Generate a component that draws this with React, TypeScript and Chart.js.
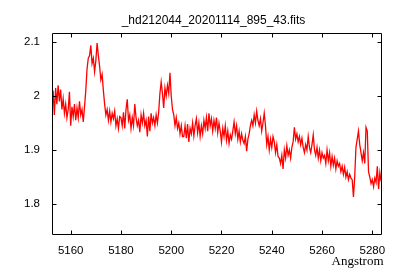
import React, { useEffect, useRef } from "react";
import { Chart, registerables } from "chart.js";

Chart.register(...registerables);

const TITLE = "_hd212044_20201114_895_43.fits";
const X_LABEL = "Angstrom";

// wavelength grid of the spectrum (start, step in Angstrom)
const CRVAL1 = 5153.0;
const CDELT1 = 0.5;

// flux samples, two per Angstrom (x.0, x.5)
const FLUX = [
  2.010, 1.965, // 5153
  2.015, 1.985, // 5154
  2.020, 1.990, // 5155
  2.012, 1.975, // 5156
  1.995, 1.968, // 5157
  1.985, 1.960, // 5158
  1.975, 2.008, // 5159
  1.945, 1.980, // 5160
  1.962, 1.985, // 5161
  1.955, 1.978, // 5162
  1.960, 1.990, // 5163
  1.965, 1.975, // 5164
  1.952, 1.980, // 5165
  2.010, 2.050, // 5166
  2.070, 2.075, // 5167
  2.094, 2.060, // 5168
  2.070, 2.045, // 5169
  2.065, 2.098, // 5170
  2.075, 2.055, // 5171
  2.030, 2.040, // 5172
  2.010, 1.985, // 5173
  1.965, 1.975, // 5174
  1.955, 1.972, // 5175
  1.952, 1.968, // 5176
  1.958, 1.972, // 5177
  1.945, 1.958, // 5178
  1.940, 1.962, // 5179
  1.960, 1.945, // 5180
  1.970, 1.940, // 5181
  1.975, 1.994, // 5182
  1.955, 1.965, // 5183
  1.940, 1.960, // 5184
  1.945, 1.985, // 5185
  1.960, 1.945, // 5186
  1.955, 1.933, // 5187
  1.965, 1.950, // 5188
  1.968, 1.945, // 5189
  1.955, 1.925, // 5190
  1.962, 1.935, // 5191
  1.968, 1.950, // 5192
  1.960, 1.945, // 5193
  1.965, 1.950, // 5194
  1.970, 2.005, // 5195
  2.026, 2.005, // 5196
  1.978, 2.015, // 5197
  2.000, 2.020, // 5198
  2.005, 2.043, // 5199
  2.000, 1.975, // 5200
  1.965, 1.945, // 5201
  1.960, 1.940, // 5202
  1.950, 1.930, // 5203
  1.945, 1.925, // 5204
  1.925, 1.945, // 5205
  1.922, 1.948, // 5206
  1.915, 1.940, // 5207
  1.930, 1.950, // 5208
  1.926, 1.945, // 5209
  1.958, 1.932, // 5210
  1.950, 1.925, // 5211
  1.945, 1.930, // 5212
  1.955, 1.940, // 5213
  1.960, 1.935, // 5214
  1.968, 1.945, // 5215
  1.958, 1.935, // 5216
  1.955, 1.940, // 5217
  1.960, 1.932, // 5218
  1.950, 1.935, // 5219
  1.915, 1.940, // 5220
  1.925, 1.945, // 5221
  1.918, 1.935, // 5222
  1.912, 1.928, // 5223
  1.920, 1.935, // 5224
  1.952, 1.930, // 5225
  1.945, 1.920, // 5226
  1.935, 1.915, // 5227
  1.930, 1.918, // 5228
  1.912, 1.925, // 5229
  1.898, 1.920, // 5230
  1.930, 1.945, // 5231
  1.955, 1.945, // 5232
  1.965, 1.950, // 5233
  1.972, 1.955, // 5234
  1.945, 1.958, // 5235
  1.935, 1.950, // 5236
  1.968, 1.945, // 5237
  1.910, 1.925, // 5238
  1.900, 1.920, // 5239
  1.905, 1.925, // 5240
  1.915, 1.895, // 5241
  1.910, 1.888, // 5242
  1.885, 1.875, // 5243
  1.890, 1.865, // 5244
  1.900, 1.885, // 5245
  1.908, 1.890, // 5246
  1.900, 1.885, // 5247
  1.905, 1.915, // 5248
  1.942, 1.920, // 5249
  1.930, 1.915, // 5250
  1.925, 1.910, // 5251
  1.922, 1.905, // 5252
  1.895, 1.910, // 5253
  1.900, 1.925, // 5254
  1.905, 1.895, // 5255
  1.910, 1.928, // 5256
  1.900, 1.890, // 5257
  1.905, 1.885, // 5258
  1.900, 1.880, // 5259
  1.895, 1.885, // 5260
  1.890, 1.875, // 5261
  1.900, 1.880, // 5262
  1.895, 1.870, // 5263
  1.888, 1.872, // 5264
  1.885, 1.865, // 5265
  1.880, 1.870, // 5266
  1.875, 1.860, // 5267
  1.870, 1.855, // 5268
  1.868, 1.850, // 5269
  1.860, 1.845, // 5270
  1.855, 1.848, // 5271
  1.845, 1.813, // 5272
  1.850, 1.905, // 5273
  1.920, 1.935, // 5274
  1.910, 1.895, // 5275
  1.880, 1.895, // 5276
  1.875, 1.942, // 5277
  1.935, 1.860, // 5278
  1.850, 1.838, // 5279
  1.845, 1.832, // 5280
  1.848, 1.840, // 5281
  1.870, 1.828, // 5282
  1.858, 1.842, // 5283
];

const X_TICKS = [5160, 5180, 5200, 5220, 5240, 5260, 5280];
const Y_TICKS = [1.8, 1.9, 2.0, 2.1];
const X_MIN = 5152.56;
const X_MAX = 5283.86;
const Y_MIN = 1.7444;
const Y_MAX = 2.1167;

const SANS = "'Liberation Sans', Arial, Helvetica, sans-serif";
const SERIF = "'Liberation Serif', 'Times New Roman', serif";

const framePlugin = {
  id: "gnuplotFrame",
  afterDraw(chart: any) {
    const { ctx, chartArea: a, scales } = chart;
    ctx.save();
    ctx.strokeStyle = "#000";
    ctx.lineWidth = 1;
    const L = Math.round(a.left) + 0.5;
    const T = Math.round(a.top) + 0.5;
    const R = Math.round(a.right) - 0.5;
    const B = Math.round(a.bottom) + 0.5;
    ctx.beginPath();
    ctx.rect(L, T, R - L, B - T);
    const tl = 4;
    for (const v of X_TICKS) {
      const px = Math.round(scales.x.getPixelForValue(v)) + 0.5;
      ctx.moveTo(px, B);
      ctx.lineTo(px, B - tl);
      ctx.moveTo(px, T);
      ctx.lineTo(px, T + tl);
    }
    for (const v of Y_TICKS) {
      const py = Math.round(scales.y.getPixelForValue(v)) + 0.5;
      ctx.moveTo(L, py);
      ctx.lineTo(L + tl, py);
      ctx.moveTo(R, py);
      ctx.lineTo(R - tl, py);
    }
    ctx.stroke();

    ctx.fillStyle = "#000";
    ctx.textBaseline = "alphabetic";
    ctx.font = `12px ${SANS}`;
    ctx.textAlign = "center";
    ctx.fillText(TITLE, 213.5, 23.5);
    ctx.font = `13px ${SERIF}`;
    ctx.textAlign = "right";
    ctx.fillText(X_LABEL, 383.5, 265);
    ctx.restore();
  },
};

export default function App() {
  const ref = useRef<HTMLCanvasElement | null>(null);

  useEffect(() => {
    if (!ref.current) return;
    const points = FLUX.map((y, i) => ({ x: CRVAL1 + i * CDELT1, y }));
    const tickFont = { family: SANS, size: 11.5 };
    const chart = new Chart(ref.current, {
      type: "line",
      data: {
        datasets: [
          {
            data: points,
            borderColor: "#ff0000",
            borderWidth: 1.3,
            pointRadius: 0,
            tension: 0,
            fill: false,
          },
        ],
      },
      options: {
        animation: false,
        responsive: false,
        devicePixelRatio: 1,
        layout: { padding: { top: 33, right: 18, left: 0, bottom: 0 } },
        plugins: {
          legend: { display: false },
          title: { display: false },
          tooltip: { enabled: false },
        },
        scales: {
          x: {
            type: "linear",
            min: X_MIN,
            max: X_MAX,
            grid: { display: false, drawTicks: false },
            border: { display: false },
            afterBuildTicks: (s: any) => {
              s.ticks = X_TICKS.map((value) => ({ value }));
            },
            afterFit: (s: any) => {
              s.height = 46;
            },
            ticks: {
              font: tickFont,
              color: "#000",
              padding: 10,
              maxRotation: 0,
              autoSkip: false,
              callback: (v: any) => String(v),
            },
          },
          y: {
            type: "linear",
            min: Y_MIN,
            max: Y_MAX,
            grid: { display: false, drawTicks: false },
            border: { display: false },
            afterBuildTicks: (s: any) => {
              s.ticks = Y_TICKS.map((value) => ({ value }));
            },
            afterFit: (s: any) => {
              s.width = 52;
            },
            ticks: {
              font: tickFont,
              color: "#000",
              padding: 12,
              autoSkip: false,
              callback: (v: any) => String(Math.round(v * 10) / 10),
            },
          },
        },
      },
      plugins: [framePlugin],
    });
    return () => chart.destroy();
  }, []);

  return (
    <div
      style={{
        position: "fixed",
        left: 0,
        top: 0,
        width: 400,
        height: 280,
        background: "#fff",
      }}
    >
      <canvas ref={ref} width={400} height={280} />
    </div>
  );
}
